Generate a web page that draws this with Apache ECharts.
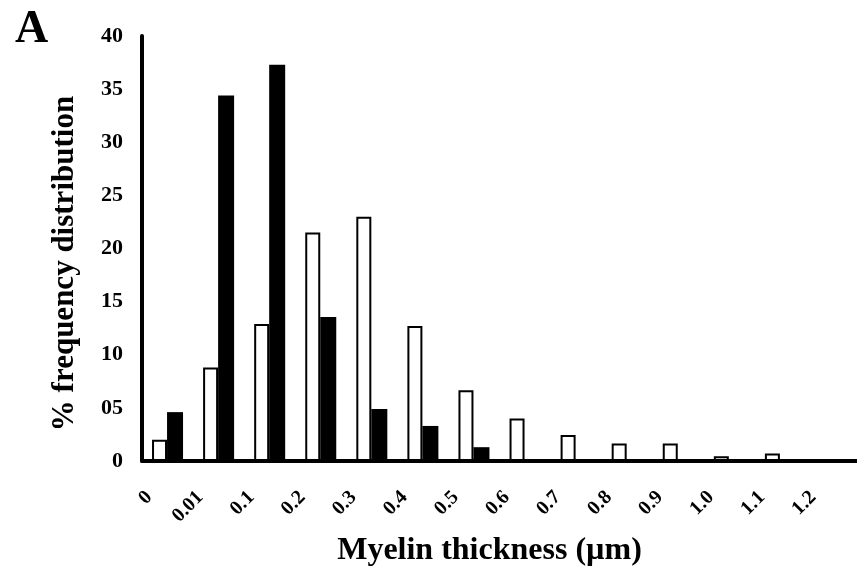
<!DOCTYPE html>
<html>
<head>
<meta charset="utf-8">
<script src="https://cdn.jsdelivr.net/npm/echarts@6/dist/echarts.min.js"></script>
<style>
  html, body { margin: 0; padding: 0; background: #fff; }
  #chart { width: 857px; height: 576px; }
</style>
</head>
<body>
<div id="chart"></div>
<script>
// Myelin thickness classes (µm)
const categories = ['0', '0.01', '0.1', '0.2', '0.3', '0.4', '0.5', '0.6', '0.7', '0.8', '0.9', '1.0', '1.1', '1.2'];
// % frequency distribution, open bars
const openValues = [2.0, 8.8, 12.9, 21.5, 23.0, 12.7, 6.65, 4.0, 2.45, 1.65, 1.65, 0.45, 0.7, 0.15];
// % frequency distribution, filled bars
const filledValues = [4.6, 34.4, 37.3, 13.55, 4.9, 3.3, 1.3, 0.1, 0, 0, 0, 0, 0, 0];
// y-axis tick labels
const yTickLabels = ['0', '05', '10', '15', '20', '25', '30', '35', '40'];

const serif = '"Liberation Serif", "Times New Roman", serif';

const chart = echarts.init(document.getElementById('chart'), null, { renderer: 'canvas' });
chart.setOption({
  animation: false,
  backgroundColor: '#ffffff',
  title: {
    text: 'A',
    left: 10,
    top: 2,
    textStyle: { fontFamily: serif, fontSize: 46, fontWeight: 'bold', color: '#000' }
  },
  grid: { left: 142, top: 36, width: 720, height: 425, containLabel: false },
  xAxis: {
    type: 'category',
    data: categories,
    boundaryGap: true,
    axisLine: { show: true, lineStyle: { color: '#000', width: 4 } },
    axisTick: { show: false },
    axisLabel: {
      rotate: 45,
      interval: 0,
      margin: 15,
      padding: [0, 26, 0, 0],
      fontFamily: serif,
      fontSize: 20,
      fontWeight: 'bold',
      color: '#000'
    },
    name: 'Myelin thickness (µm)',
    nameLocation: 'middle',
    nameGap: 74,
    nameTextStyle: {
      fontFamily: serif, fontSize: 32, fontWeight: 'bold', color: '#000',
      padding: [0, 20, 0, 0]
    }
  },
  yAxis: {
    type: 'value',
    min: 0,
    max: 40,
    interval: 5,
    splitLine: { show: false },
    axisLine: { show: true, lineStyle: { color: '#000', width: 4 } },
    axisTick: { show: false },
    axisLabel: {
      margin: 19,
      fontFamily: serif,
      fontSize: 22,
      fontWeight: 'bold',
      color: '#000',
      formatter: function (v) { return yTickLabels[Math.round(v / 5)]; }
    },
    name: '% frequency distribution',
    nameLocation: 'middle',
    nameGap: 62,
    nameTextStyle: {
      fontFamily: serif, fontSize: 31, fontWeight: 'bold', color: '#000',
      padding: [0, 30, 0, 0]
    }
  },
  series: [
    {
      type: 'bar',
      data: openValues,
      barWidth: 15,
      barGap: '0%',
      itemStyle: { color: '#ffffff', borderColor: '#000', borderWidth: 2 },
      z: 2
    },
    {
      type: 'bar',
      data: filledValues,
      barWidth: 16,
      barGap: '0%',
      itemStyle: { color: '#000', borderColor: '#000', borderWidth: 0 },
      z: 2
    }
  ]
});
</script>
</body>
</html>
